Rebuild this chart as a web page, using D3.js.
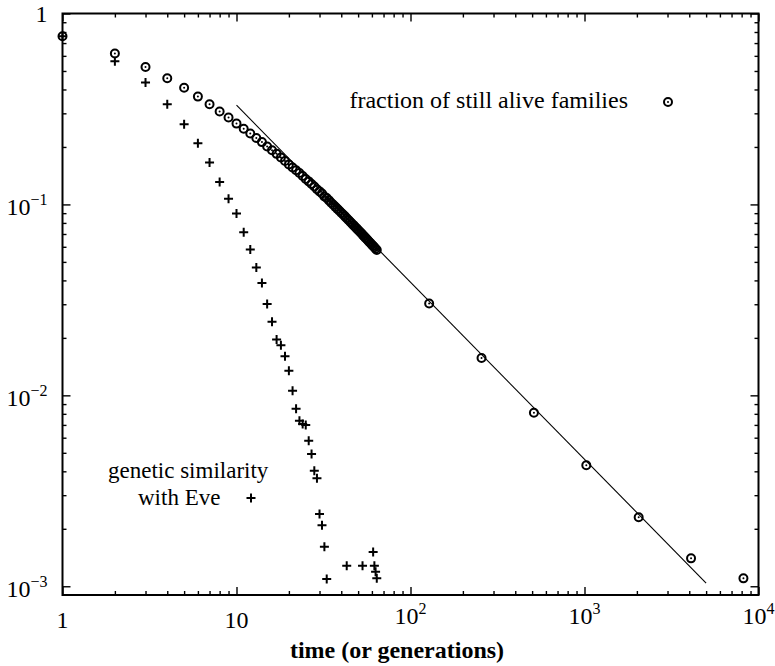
<!DOCTYPE html>
<html>
<head>
<meta charset="utf-8">
<script src="https://cdn.jsdelivr.net/npm/d3@7"></script>
<style>
  body { margin: 0; background: #fff; }
  svg text { font-family: "Liberation Serif", "Times New Roman", serif; fill: #000; }
</style>
</head>
<body>
<div id="chart"></div>
<script>
// fraction of still alive families (circles)
const aliveTimes = [1, 2, 3, 4, 5, 6, 7, 8, 9, 10,
  11, 12, 13, 14, 15, 16, 17, 18, 19, 20,
  21, 22, 23, 24, 25, 26, 27, 28, 29, 30,
  31, 32, 33, 34, 35, 36, 37, 38, 39, 40,
  41, 42, 43, 44, 45, 46, 47, 48, 49, 50,
  51, 52, 53, 54, 55, 56, 57, 58, 59, 60,
  61, 62, 63, 64, 128, 256, 512, 1024, 2048, 4096, 8192];
const aliveFrac = [0.76, 0.617, 0.525, 0.458, 0.408, 0.367, 0.335, 0.307, 0.285, 0.265,
  0.249, 0.235, 0.223, 0.212, 0.201, 0.192, 0.184, 0.176, 0.169, 0.162,
  0.156, 0.151, 0.146, 0.141, 0.136, 0.132, 0.128, 0.124, 0.120, 0.117,
  0.114, 0.110, 0.108, 0.105, 0.102, 0.0996, 0.0971, 0.0948, 0.0926, 0.0905,
  0.0885, 0.0866, 0.0847, 0.0829, 0.0812, 0.0795, 0.0779, 0.0764, 0.0749, 0.0735,
  0.0721, 0.0708, 0.0695, 0.0682, 0.0670, 0.0659, 0.0647, 0.0636, 0.0626, 0.0615,
  0.0605, 0.0596, 0.0586, 0.0577, 0.0303, 0.0157, 0.0081, 0.0043, 0.0023, 0.0014, 0.0011];

// genetic similarity with Eve (pluses)
const eveTimes = [1, 2, 3, 4, 5, 6, 7, 8, 9, 10,
  11, 12, 13, 14, 15, 16, 17, 18, 19, 20,
  21, 22, 23, 24, 25, 26, 27, 28, 29, 30,
  31, 32, 33, 43, 53, 61, 62, 63, 64];
const eveSim = [0.76, 0.563, 0.435, 0.335, 0.263, 0.209, 0.166, 0.131, 0.107, 0.0897,
  0.0714, 0.0581, 0.0468, 0.0388, 0.0301, 0.0243, 0.0196, 0.0183, 0.016, 0.01345,
  0.01057, 0.0085, 0.00736, 0.00708, 0.00699, 0.00578, 0.00493, 0.00403, 0.00368, 0.00239,
  0.00209, 0.00161, 0.00109, 0.00128, 0.00128, 0.00151, 0.00128, 0.00119, 0.0011];

// straight power-law guide
const fitTimes = [10, 5000];
const fitFrac = [0.331, 0.00104];

const xTickVals = [1, 10, 100, 1000, 10000];
const xTickLabels = ["1", "10", "10^2", "10^3", "10^4"];
const yTickVals = [1, 0.1, 0.01, 0.001];
const yTickLabels = ["1", "10^\u22121", "10^\u22122", "10^\u22123"];

const width = 775, height = 666;
const margin = {top: 13.5, right: 16.5, bottom: 71, left: 62.5};
const w = width - margin.left - margin.right;
const h = height - margin.top - margin.bottom;

const svg = d3.select("#chart")
  .append("svg")
  .attr("width", width)
  .attr("height", height);

const g = svg.append("g")
  .attr("transform", `translate(${margin.left},${margin.top})`);

const x = d3.scaleLog().domain([1, 1e4]).range([0, w]);
const y = d3.scaleLog().domain([9e-4, 1]).range([h, 0]);

const xMinor = x.ticks().filter(d => !xTickVals.includes(d));
const yMinor = y.ticks().filter(d => !yTickVals.some(v => Math.abs(v - d) < 1e-12) && d > 9.5e-4);

// ticks, all pointing inward, mirrored on top and right
function ticks(axis, vals, size, transform) {
  g.append("g")
    .attr("transform", transform)
    .call(axis.tickValues(vals).tickSize(size).tickFormat(""))
    .call(s => s.select(".domain").remove())
    .call(s => s.selectAll(".tick line").attr("stroke", "#000").attr("stroke-width", 1.4));
}
ticks(d3.axisBottom(x), xTickVals, -8, `translate(0,${h})`);
ticks(d3.axisBottom(x), xMinor, -4, `translate(0,${h})`);
ticks(d3.axisTop(x), xTickVals, -8, "translate(0,0)");
ticks(d3.axisTop(x), xMinor, -4, "translate(0,0)");
ticks(d3.axisLeft(y), yTickVals, -8, "translate(0,0)");
ticks(d3.axisLeft(y), yMinor, -4, "translate(0,0)");
ticks(d3.axisRight(y), yTickVals, -8, `translate(${w},0)`);
ticks(d3.axisRight(y), yMinor, -4, `translate(${w},0)`);

g.append("rect")
  .attr("width", w)
  .attr("height", h)
  .attr("fill", "none")
  .attr("stroke", "#000")
  .attr("stroke-width", 2);

// labels like gnuplot enhanced text: "10^2"
function powText(sel, s) {
  const [b, e] = s.split("^");
  sel.append("tspan").text(b);
  if (e) sel.append("tspan").attr("dy", -10).attr("font-size", 16).text(e);
}

xTickVals.forEach((v, i) => {
  const sup = xTickLabels[i].includes("^");
  g.append("text")
    .attr("x", x(v))
    .attr("y", h + (sup ? 29 : 33))
    .attr("text-anchor", "middle")
    .attr("font-size", 24)
    .call(powText, xTickLabels[i]);
});

yTickVals.forEach((v, i) => {
  const sup = yTickLabels[i].includes("^");
  g.append("text")
    .attr("x", -15)
    .attr("y", y(v) + (sup ? 11 : 8))
    .attr("text-anchor", "end")
    .attr("font-size", 24)
    .call(powText, yTickLabels[i]);
});

svg.append("text")
  .attr("x", 397)
  .attr("y", 658)
  .attr("text-anchor", "middle")
  .attr("font-size", 24)
  .attr("font-weight", "bold")
  .text("time (or generations)");

// power-law line
g.append("path")
  .datum(fitTimes.map((t, i) => [t, fitFrac[i]]))
  .attr("fill", "none")
  .attr("stroke", "#000")
  .attr("stroke-width", 1.1)
  .attr("d", d3.line().x(d => x(d[0])).y(d => y(d[1])));

function circleMark(sel) {
  sel.append("circle").attr("r", 4).attr("fill", "none").attr("stroke", "#000").attr("stroke-width", 2);
  sel.append("circle").attr("r", 1).attr("fill", "#000");
}
function plusMark(sel) {
  sel.append("path").attr("d", "M-4.5,0H4.5M0,-4.5V4.5").attr("stroke", "#000").attr("stroke-width", 2);
}

g.append("g")
  .selectAll("g")
  .data(aliveTimes.map((t, i) => [t, aliveFrac[i]]))
  .join("g")
    .attr("transform", d => `translate(${x(d[0])},${y(d[1])})`)
    .call(circleMark);

g.append("g")
  .selectAll("g")
  .data(eveTimes.map((t, i) => [t, eveSim[i]]))
  .join("g")
    .attr("transform", d => `translate(${x(d[0])},${y(d[1])})`)
    .call(plusMark);

// keys
svg.append("text")
  .attr("x", 628)
  .attr("y", 108)
  .attr("text-anchor", "end")
  .attr("font-size", 24)
  .text("fraction of still alive families");
svg.append("g").attr("transform", "translate(668,102)").call(circleMark);

svg.append("text")
  .attr("x", 108)
  .attr("y", 478)
  .attr("font-size", 23)
  .text("genetic similarity");
svg.append("text")
  .attr("x", 138)
  .attr("y", 505)
  .attr("font-size", 23)
  .text("with Eve");
svg.append("g").attr("transform", "translate(251,498)").call(plusMark);
</script>
</body>
</html>
